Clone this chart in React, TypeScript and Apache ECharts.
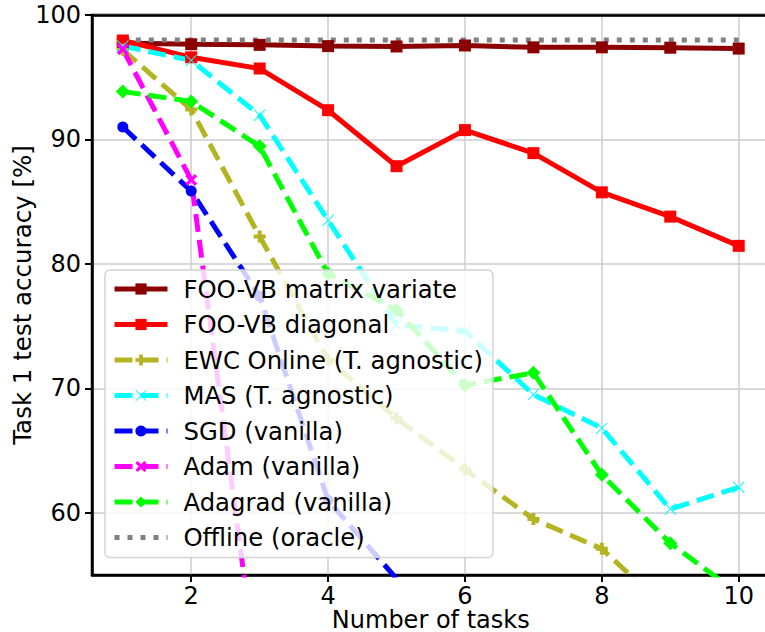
import React, { useEffect, useRef } from "react";
import * as echarts from "echarts";

// ---- data ----
const tasks = [1, 2, 3, 4, 5, 6, 7, 8, 9, 10];
const fooVbMatrix = [97.75, 97.65, 97.6, 97.5, 97.47, 97.55, 97.4, 97.4, 97.37, 97.3];
const fooVbDiagonal = [97.95, 96.6, 95.7, 92.35, 87.85, 90.75, 88.9, 85.75, 83.8, 81.45];
const ewcOnline = [97.2, 92.4, 82.2, 72.3, 67.6, 63.5, 59.5, 57.1, 52.0, 49.0];
const mas = [97.5, 96.35, 91.95, 83.5, 75.1, 74.6, 69.5, 66.8, 60.3, 62.05];
const sgd = [91.0, 85.85, 77.4, 61.0, 54.7, null, null, null, null, null];
const adam = [97.25, 86.75, 45.5, null, null, null, null, null, null, null];
const adagrad = [93.85, 93.05, 89.45, 79.2, 76.3, 70.25, 71.25, 63.05, 57.55, 53.5];
const offline = [98.0, 98.0, 98.0, 98.0, 98.0, 98.0, 98.0, 98.0, 98.0, 98.0];

const seriesNames = [
  "FOO-VB matrix variate",
  "FOO-VB diagonal",
  "EWC Online (T. agnostic)",
  "MAS (T. agnostic)",
  "SGD (vanilla)",
  "Adam (vanilla)",
  "Adagrad (vanilla)",
  "Offline (oracle)",
];

const xTicks = [2, 4, 6, 8, 10];
const yTicks = [60, 70, 80, 90, 100];
const xLabel = "Number of tasks";
const yLabel = "Task 1 test accuracy [%]";

const FONT = "DejaVu Sans";

const PLUS_FILLED = "path://M-2,-6H2V-2H6V2H2V6H-2V2H-6V-2H-2Z";
const X_FILLED =
  "path://M0,-2.8L4.2,-7L7,-4.2L2.8,0L7,4.2L4.2,7L0,2.8L-4.2,7L-7,4.2L-2.8,0L-7,-4.2L-4.2,-7Z";
const X_THIN =
  "path://M-6,-5.3L-5.3,-6L0,-0.7L5.3,-6L6,-5.3L0.7,0L6,5.3L5.3,6L0,0.7L-5.3,6L-6,5.3L-0.7,0Z";

export default function App() {
  const ref = useRef<HTMLDivElement>(null);

  useEffect(() => {
    if (!ref.current) return;
    const chart = echarts.init(ref.current, null, { renderer: "svg" });
    const pairs = (ys: (number | null)[]) => tasks.map((t, i) => [t, ys[i]]);
    const DASH = [18, 8];

    const mk = (
      name: string,
      ys: (number | null)[],
      color: string,
      type: any,
      symbol: string,
      symbolSize: number
    ) => ({
      type: "line",
      name,
      data: pairs(ys),
      clip: true,
      symbol,
      symbolSize,
      showSymbol: symbol !== "none",
      connectNulls: false,
      lineStyle: { color, width: 5, type, cap: "butt" },
      itemStyle: { color, borderWidth: 0 },
      emphasis: { disabled: true },
    });

    const legendData = seriesNames.map((n, i) =>
      i === seriesNames.length - 1
        ? { name: n, itemStyle: { color: "rgba(0,0,0,0)", opacity: 0 } }
        : { name: n }
    );

    chart.setOption({
      animation: false,
      backgroundColor: "#ffffff",
      textStyle: { fontFamily: FONT },
      grid: {
        left: 92,
        top: 15,
        width: 677.5,
        height: 560,
        outerBoundsMode: "none",
        containLabel: false,
        show: true,
        borderColor: "#000",
        borderWidth: 2.5,
        backgroundColor: "transparent",
      },
      xAxis: [
        {
          type: "value",
          min: 0.55,
          max: 10.45,
          name: xLabel,
          nameLocation: "middle",
          nameGap: 34,
          nameMoveOverlap: false,
          nameTextStyle: { fontSize: 24, lineHeight: 22, color: "#000", fontFamily: FONT },
          axisLine: { show: true, onZero: false, lineStyle: { color: "#000", width: 2.5 } },
          axisTick: {
            show: true,
            customValues: xTicks,
            length: 7,
            lineStyle: { color: "#000", width: 2 },
          },
          axisLabel: {
            customValues: xTicks,
            fontSize: 24,
            lineHeight: 22,
            color: "#000",
            margin: 10,
            fontFamily: FONT,
          },
          splitLine: { show: true, lineStyle: { color: "#cccccc", width: 1.5 } },
        },
        {
          type: "value",
          position: "top",
          min: 0.55,
          max: 10.45,
          z: 5,
          axisLine: { show: true, onZero: false, lineStyle: { color: "#000", width: 2.5 } },
          axisTick: { show: false },
          axisLabel: { show: false },
          splitLine: { show: false },
        },
      ],
      yAxis: {
        type: "value",
        min: 55,
        max: 100,
        name: yLabel,
        nameLocation: "middle",
        nameGap: 57,
        nameMoveOverlap: false,
        nameTextStyle: { fontSize: 24.5, color: "#000", fontFamily: FONT },
        axisLine: { show: true, onZero: false, lineStyle: { color: "#000", width: 2.5 } },
        axisTick: {
          show: true,
          customValues: yTicks,
          length: 7,
          lineStyle: { color: "#000", width: 2 },
        },
        axisLabel: { customValues: yTicks, fontSize: 24, color: "#000", margin: 11, fontFamily: FONT },
        splitLine: { show: true, lineStyle: { color: "#cccccc", width: 1.5 } },
      },
      legend: {
        orient: "vertical",
        left: 105,
        top: 270,
        itemWidth: 53,
        itemHeight: 14,
        itemGap: 11.5,
        padding: [7, 10, 8, 7],
        backgroundColor: "rgba(255,255,255,0.8)",
        borderColor: "#d4d4d4",
        borderWidth: 1.5,
        borderRadius: 5,
        lineStyle: { width: 5 },
        textStyle: {
          fontFamily: FONT,
          fontSize: 24.3,
          color: "#000",
          padding: [0, 0, 0, 11],
        },
        data: legendData,
        selectedMode: false,
      },
      series: [
        mk(seriesNames[0], fooVbMatrix, "#8b0000", "solid", "rect", 12),
        mk(seriesNames[1], fooVbDiagonal, "#ff0000", "solid", "rect", 12),
        mk(seriesNames[2], ewcOnline, "#b4b423", DASH, PLUS_FILLED, 12),
        mk(seriesNames[3], mas, "#00ffff", DASH, X_THIN, 12),
        mk(seriesNames[4], sgd, "#0000ff", DASH, "circle", 11),
        mk(seriesNames[5], adam, "#ff00ff", DASH, X_FILLED, 12),
        mk(seriesNames[6], adagrad, "#00ff00", DASH, "diamond", 14),
        mk(seriesNames[7], offline, "#808080", [5, 8], "none", 0),
      ],
    });

    return () => chart.dispose();
  }, []);

  return (
    <div
      ref={ref}
      style={{ position: "fixed", left: 0, top: 0, width: 765, height: 632 }}
    />
  );
}
